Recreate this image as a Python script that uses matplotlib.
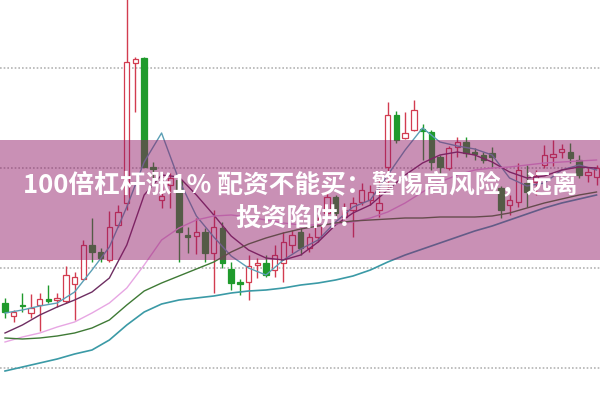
import matplotlib
matplotlib.use("Agg")
from matplotlib import pyplot as plt

# daily candles: open, close, high, low
opens = [8.25, 7.6, 8.15, 7.75, 8.15, 8.45, 8.4, 8.35, 9.2, 9.45,
         11.15, 10.8, 10.4, 12.15, 13.25, 20.25, 20.5, 15.05, 13.4, 14.15,
         14.4, 11.65, 11.6, 11.8, 10.75, 12.0, 9.95, 9.3, 9.3, 10.15,
         10.25, 9.9, 10.25, 11.15, 11.8, 11.0, 11.55, 12.75, 13.55, 12.55,
         12.9, 13.3, 13.4, 12.9, 15.05, 17.65, 16.5, 16.9, 16.95, 16.8,
         15.55, 15.0, 16.05, 16.3, 15.8, 15.65, 15.75, 14.0, 13.15, 13.3,
         14.25, 14.3, 15.15, 15.55, 15.8, 15.8, 15.4, 14.65, 14.55]
closes = [7.8, 7.8, 8.08, 8.0, 8.45, 8.35, 8.5, 9.65, 9.55, 11.15,
          10.8, 10.5, 12.05, 12.8, 20.3, 20.45, 15.05, 14.95, 13.6, 14.5,
          11.8, 11.55, 11.8, 10.75, 12.05, 10.25, 9.25, 9.2, 10.1, 10.25,
          9.65, 10.65, 11.3, 11.65, 11.0, 11.55, 12.15, 13.55, 12.75, 12.9,
          13.25, 13.9, 13.8, 13.25, 17.65, 16.4, 16.75, 17.9, 16.85, 15.3,
          15.05, 16.0, 16.3, 15.75, 15.7, 15.4, 15.55, 12.9, 13.4, 14.9,
          13.8, 14.6, 15.65, 15.7, 15.95, 15.5, 14.65, 14.8, 15.0]
highs = [8.5, 7.9, 8.75, 8.7, 8.75, 9.15, 8.75, 10.1, 9.8, 11.4,
         12.5, 11.0, 12.85, 13.15, 23.6, 20.55, 20.55, 15.3, 14.05, 14.75,
         14.6, 12.05, 12.5, 12.0, 12.9, 12.3, 10.3, 9.45, 10.65, 10.5,
         10.65, 11.15, 11.8, 11.9, 12.0, 11.75, 12.55, 13.75, 13.65, 13.25,
         13.55, 14.25, 14.15, 14.55, 18.3, 17.85, 17.8, 18.4, 17.2, 16.9,
         15.65, 16.1, 16.55, 16.55, 16.0, 15.8, 16.05, 14.1, 13.65, 15.25,
         15.15, 14.9, 16.15, 16.4, 16.2, 16.25, 15.65, 15.05, 15.15]
lows = [7.5, 7.3, 7.8, 7.5, 6.85, 8.25, 8.05, 8.25, 7.4, 9.4,
        10.3, 10.3, 10.3, 12.05, 12.9, 17.8, 15.05, 14.5, 13.0, 13.0,
        10.3, 10.75, 10.7, 10.3, 8.75, 10.0, 8.9, 8.65, 8.4, 9.5,
        9.55, 9.55, 9.3, 10.75, 10.65, 10.8, 11.3, 12.5, 12.55, 12.4,
        11.55, 13.15, 13.15, 12.55, 13.9, 16.25, 16.45, 16.85, 15.4, 14.9,
        14.75, 14.9, 15.55, 15.55, 15.4, 15.25, 15.05, 12.5, 12.65, 13.05,
        13.05, 13.65, 15.0, 15.1, 15.5, 15.25, 14.5, 14.3, 14.15]

# moving averages read every second day
ma_days = list(range(0, 69, 2))
ma5 = [7.75, 7.9, 8.1, 8.25, 8.8, 9.9, 11.05, 13.05, 15.3, 16.75,
       14.4, 12.6, 11.55, 10.6, 10.0, 9.65, 10.4, 10.95, 11.4, 12.3,
       13.05, 13.4, 14.65, 15.9, 17.0, 16.3, 16.1, 15.95, 15.65, 14.5,
       14.1, 14.25, 14.9, 15.15, 14.9]
ma10 = [6.75, 7.15, 7.65, 8.05, 8.4, 8.8, 9.5, 11.15, 13.65, 14.65,
        14.55, 13.65, 12.65, 11.6, 10.9, 10.5, 10.4, 10.65, 11.3, 12.15,
        12.75, 13.15, 13.9, 14.65, 15.25, 15.65, 15.8, 15.65, 15.3, 14.8,
        14.5, 14.6, 14.9, 15.05, 15.0]
ma20 = [6.3, 6.55, 6.75, 7.05, 7.3, 7.75, 8.25, 9.0, 10.15, 11.4,
        12.0, 12.4, 12.6, 12.65, 12.55, 12.4, 12.25, 12.15, 12.15, 12.2,
        12.3, 12.5, 12.8, 13.25, 13.8, 14.3, 14.65, 14.9, 15.0, 15.05,
        15.15, 15.25, 15.3, 15.35, 15.4]
ma30 = [6.5, 6.45, 6.5, 6.6, 6.75, 7.0, 7.4, 8.15, 8.85, 9.25,
        9.6, 9.95, 10.3, 10.8, 11.2, 11.5, 11.75, 11.95, 12.1, 12.25,
        12.35, 12.4, 12.45, 12.5, 12.5, 12.55, 12.55, 12.55, 12.6, 12.75,
        13.0, 13.25, 13.45, 13.65, 13.8]
ma60 = [4.85, 5.05, 5.25, 5.45, 5.7, 5.9, 6.4, 7.15, 7.8, 8.2,
        8.4, 8.5, 8.6, 8.75, 8.85, 8.9, 9.0, 9.15, 9.25, 9.4,
        9.6, 9.9, 10.3, 10.65, 10.95, 11.25, 11.55, 11.85, 12.1, 12.4,
        12.7, 13.0, 13.25, 13.45, 13.65]

grid_levels = [20, 15, 10, 5]
title_line1 = "100倍杠杆涨1% 配资不能买：警惕高风险，远离"
title_line2 = "投资陷阱！"

RED = "#d23c50"
GREEN = "#1f9a2c"


def main():
    fig = plt.figure(figsize=(6, 4.01), dpi=100)
    ax = fig.add_axes([0, 0, 1, 1])
    ax.set_xlim(-0.575, 68.4)
    ax.set_ylim(3.35, 23.4)
    ax.axis("off")

    for g in grid_levels:
        ax.axhline(g, color="#b4b4b4", lw=1.2, ls=(0, (1, 1.2)), zorder=0)

    days = list(range(len(opens)))
    up = [c >= o for o, c in zip(opens, closes)]
    cols = [RED if u else GREEN for u in up]
    ax.vlines(days, lows, highs, colors=cols, lw=1.0, zorder=2)
    bottoms = [min(o, c) for o, c in zip(opens, closes)]
    heights = [max(abs(c - o), 0.06) for o, c in zip(opens, closes)]
    faces = ["white" if u else GREEN for u in up]
    ax.bar(days, heights, bottom=bottoms, width=0.62, color=faces,
           edgecolor=cols, linewidth=0.9, zorder=3)

    ax.plot(ma_days, ma5, color="#5b9fb5", lw=1.0, zorder=4)
    ax.plot(ma_days, ma10, color="#6e2e62", lw=1.0, zorder=4)
    ax.plot(ma_days, ma20, color="#e7a6e3", lw=1.0, zorder=4)
    ax.plot(ma_days, ma30, color="#3f7a36", lw=1.0, zorder=4)
    ax.plot(ma_days, ma60, color="#3b9aa6", lw=1.2, zorder=4)

    # translucent banner behind the headline
    ax.axhspan(10.4, 16.4, color=(143 / 255, 24 / 255, 102 / 255),
               alpha=0.48, lw=0, zorder=5)

    fam = ["Noto Sans CJK SC", "DejaVu Sans"]
    fig.text(0.5, 1 - 185 / 401, title_line1, ha="center", va="center",
             fontsize=18.5, fontweight="bold", color="white", family=fam)
    fig.text(0.5, 1 - 218 / 401, title_line2, ha="center", va="center",
             fontsize=18.5, fontweight="bold", color="white", family=fam)

    fig.savefig("out.png", dpi=100)


if __name__ == '__main__':
    main()
